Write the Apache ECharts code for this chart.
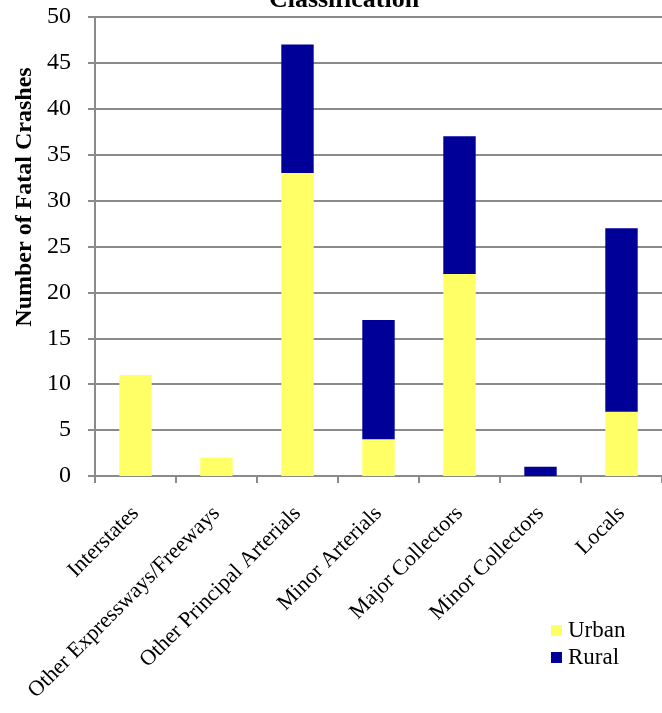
<!DOCTYPE html>
<html>
<head>
<meta charset="utf-8">
<script src="https://cdn.jsdelivr.net/npm/echarts@6/dist/echarts.min.js"></script>
<style>
  html, body { margin: 0; padding: 0; background: #fff; }
  #chart { width: 662px; height: 713px; }
</style>
</head>
<body>
<div id="chart"></div>
<script>
// Fatal crashes by functional road class, split urban / rural
const categories = [
  'Interstates',
  'Other Expressways/Freeways',
  'Other Principal Arterials',
  'Minor Arterials',
  'Major Collectors',
  'Minor Collectors',
  'Locals'
];
const urbanCrashes = [11, 2, 33, 4, 22, 0, 7];
const ruralCrashes = [0, 0, 14, 13, 15, 1, 20];
const yTicks = [0, 5, 10, 15, 20, 25, 30, 35, 40, 45, 50];

const serif = '"Liberation Serif", "Times New Roman", serif';
const gridGray = '#8a8a8a';

const chart = echarts.init(document.getElementById('chart'), null, { renderer: 'canvas' });

chart.setOption({
  animation: false,
  backgroundColor: '#ffffff',
  textStyle: { fontFamily: serif, color: '#000' },
  grid: { left: 95, top: 17, width: 574, height: 459, containLabel: false },
  legend: {
    orient: 'vertical',
    left: 546,
    top: 614,
    itemWidth: 11,
    itemHeight: 11,
    itemGap: 4,
    icon: 'rect',
    textStyle: { fontFamily: serif, fontSize: 23, color: '#000', padding: [0, 0, 0, 1] },
    data: ['Urban', 'Rural']
  },
  graphic: [
    {
      type: 'text',
      style: {
        text: 'Classification',
        x: 344,
        y: 13,
        align: 'center',
        verticalAlign: 'bottom',
        font: 'bold 26px ' + serif,
        fill: '#000'
      }
    },
    {
      type: 'text',
      x: 25,
      y: 197,
      rotation: Math.PI / 2,
      style: {
        text: 'Number of Fatal Crashes',
        align: 'center',
        verticalAlign: 'middle',
        font: 'bold 24px ' + serif,
        fill: '#000'
      }
    }
  ],
  xAxis: {
    type: 'category',
    data: categories,
    axisLine: { lineStyle: { color: gridGray, width: 2 } },
    axisTick: { show: true, length: 7, alignWithLabel: false, lineStyle: { color: gridGray, width: 2 } },
    axisLabel: {
      rotate: 45,
      interval: 0,
      margin: 34,
      fontFamily: serif,
      fontSize: 22,
      color: '#000'
    }
  },
  yAxis: {
    type: 'value',
    min: 0,
    max: 50,
    interval: 5,
    axisLine: { show: true, lineStyle: { color: gridGray, width: 2 } },
    axisTick: { show: true, length: 7, lineStyle: { color: gridGray, width: 2 } },
    splitLine: { show: true, lineStyle: { color: gridGray, width: 2 } },
    axisLabel: {
      margin: 24,
      fontFamily: serif,
      fontSize: 24,
      color: '#000',
      formatter: function (v) { return yTicks.indexOf(v) >= 0 ? String(v) : ''; }
    }
  },
  series: [
    {
      name: 'Urban',
      type: 'bar',
      stack: 'total',
      barWidth: '40%',
      data: urbanCrashes,
      itemStyle: { color: '#ffff66' }
    },
    {
      name: 'Rural',
      type: 'bar',
      stack: 'total',
      barWidth: '40%',
      data: ruralCrashes,
      itemStyle: { color: '#000099' }
    }
  ]
});
</script>
</body>
</html>
